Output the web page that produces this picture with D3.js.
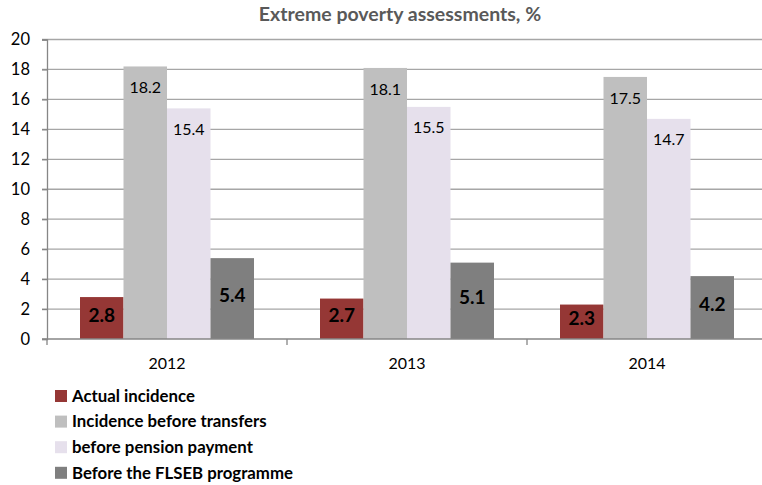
<!DOCTYPE html>
<html>
<head>
<meta charset="utf-8">
<script src="https://cdn.jsdelivr.net/npm/d3@7"></script>
<style>
  html, body { margin: 0; padding: 0; background: #fff; }
  svg { display: block; }
</style>
</head>
<body>
<svg id="chart" width="762" height="485"></svg>
<script>
// Data
const years = ["2012", "2013", "2014"];
const seriesNames = [
  "Actual incidence",
  "Incidence before transfers",
  "before pension payment",
  "Before the FLSEB programme"
];
const actualIncidence = [2.8, 2.7, 2.3];
const beforeTransfers = [18.2, 18.1, 17.5];
const beforePension = [15.4, 15.5, 14.7];
const beforeFLSEB = [5.4, 5.1, 4.2];
const yTicks = [0, 2, 4, 6, 8, 10, 12, 14, 16, 18, 20];

const seriesValues = [actualIncidence, beforeTransfers, beforePension, beforeFLSEB];
const colors = ["#953735", "#bfbfbf", "#e6e0ec", "#7f7f7f"];
// label placement: "center" = bold in the middle of the bar, "end" = regular just below the top
const labelMode = ["center", "end", "end", "center"];

const font = "Lato, 'Open Sans', sans-serif";
const svg = d3.select("#chart");

const plotLeft = 47, plotRight = 767, plotTop = 39.5, plotBottom = 339;

const x0 = d3.scaleBand().domain(years).range([plotLeft, plotRight]).paddingInner(0).paddingOuter(0);
const x1 = d3.scaleBand().domain(d3.range(4)).range([33, x0.bandwidth() - 33]).padding(0);
const y = d3.scaleLinear().domain([0, 20]).range([plotBottom, plotTop]);

// gridlines
svg.append("g").selectAll("line").data(yTicks.filter(d => d > 0)).join("line")
  .attr("x1", plotLeft - 5).attr("x2", 762)
  .attr("y1", d => y(d)).attr("y2", d => y(d))
  .attr("stroke", "#a6a6a6").attr("stroke-width", 1.3);

// y axis
const yAxis = svg.append("g").attr("transform", `translate(${plotLeft},0)`)
  .call(d3.axisLeft(y).tickValues(yTicks).tickSize(5).tickPadding(12).tickFormat(d3.format("d")));
yAxis.select(".domain").attr("stroke", "#868686").attr("stroke-width", 1.3);
yAxis.selectAll(".tick line").attr("stroke", "#868686").attr("stroke-width", 1.3);
yAxis.selectAll("text").attr("font-family", font).attr("font-size", 16.5).attr("fill", "#000");

// bars
const groups = svg.append("g").selectAll("g").data(years).join("g")
  .attr("transform", d => `translate(${x0(d)},0)`);

groups.each(function(year, yi) {
  const g = d3.select(this);
  seriesValues.forEach((vals, si) => {
    const v = vals[yi];
    g.append("rect")
      .attr("x", x1(si)).attr("width", x1.bandwidth())
      .attr("y", y(v)).attr("height", y(0) - y(v))
      .attr("fill", colors[si]);
    const cx = x1(si) + x1.bandwidth() / 2;
    if (labelMode[si] === "center") {
      g.append("text")
        .attr("x", cx).attr("y", (y(v) + y(0)) / 2 - 3)
        .attr("dy", "0.35em").attr("text-anchor", "middle")
        .attr("font-family", font).attr("font-size", 19).attr("font-weight", "bold")
        .attr("fill", "#000").text(d3.format(".1f")(v));
    } else {
      g.append("text")
        .attr("x", cx).attr("y", y(v) + 21)
        .attr("dy", "0.35em").attr("text-anchor", "middle")
        .attr("font-family", font).attr("font-size", 16)
        .attr("fill", "#000").text(d3.format(".1f")(v));
    }
  });
});

// x axis
const xAxis = svg.append("g").attr("transform", `translate(0,${plotBottom})`);
xAxis.append("line").attr("x1", plotLeft - 5).attr("x2", 762).attr("y1", 0).attr("y2", 0)
  .attr("stroke", "#868686").attr("stroke-width", 1.3);
xAxis.selectAll(".cat-tick").data(years).join("line")
  .attr("class", "cat-tick")
  .attr("x1", d => x0(d)).attr("x2", d => x0(d))
  .attr("y1", 0).attr("y2", 6)
  .attr("stroke", "#868686").attr("stroke-width", 1.3);
xAxis.selectAll(".cat-label").data(years).join("text")
  .attr("class", "cat-label")
  .attr("x", d => x0(d) + x0.bandwidth() / 2).attr("y", 30)
  .attr("text-anchor", "middle")
  .attr("font-family", font).attr("font-size", 16).attr("fill", "#000")
  .text(d => d);

// title
svg.append("text")
  .attr("x", 400).attr("y", 21)
  .attr("text-anchor", "middle")
  .attr("font-family", font).attr("font-size", 19.5).attr("font-weight", "bold")
  .attr("fill", "#595959")
  .text("Extreme poverty assessments, %");

// legend
const legend = svg.append("g").selectAll("g").data(seriesNames).join("g")
  .attr("transform", (d, i) => `translate(55,${396 + i * 25.6})`);
legend.append("rect").attr("x", 0).attr("y", -6).attr("width", 12).attr("height", 12)
  .attr("fill", (d, i) => colors[i]);
legend.append("text").attr("x", 17).attr("y", 0).attr("dy", "0.35em")
  .attr("font-family", font).attr("font-size", 16.8).attr("font-weight", "bold")
  .attr("fill", "#000").text(d => d);
</script>
</body>
</html>
